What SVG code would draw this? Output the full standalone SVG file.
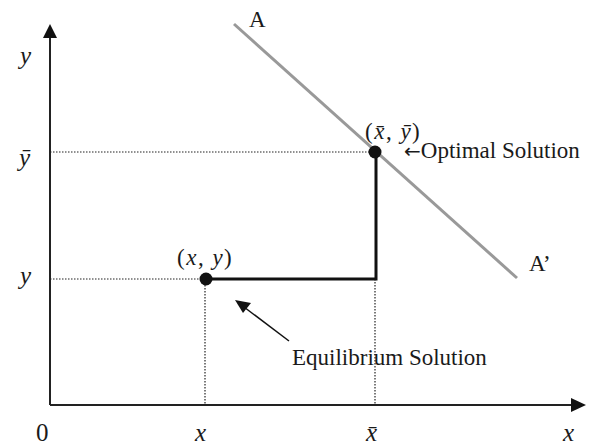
<svg xmlns="http://www.w3.org/2000/svg" width="601" height="445" viewBox="0 0 601 445">
<style>
text{font-family:"Liberation Serif","Times New Roman",serif;font-size:23px;fill:#1a1a1a}
.it{font-style:italic}
.ax{font-size:25px}
.arr{font-family:"DejaVu Sans",sans-serif;font-size:20px}
.dot{stroke:#222;stroke-width:1.2;stroke-dasharray:1.5 1.5;fill:none}
.axis{stroke:#222;stroke-width:2;fill:none}
</style>
<rect width="601" height="445" fill="#fff"/>
<g id="connectors">
<path class="dot" d="M50,152 H375"/>
<path class="dot" d="M50,279 H205"/>
<path class="dot" d="M205,279 V405"/>
<path class="dot" d="M375,279 V405"/>
<line x1="234" y1="24" x2="517" y2="278" stroke="#999" stroke-width="3"/>
<path d="M205,279 H376 V152" fill="none" stroke="#111" stroke-width="3"/>
<line x1="289" y1="341" x2="244" y2="307" stroke="#111" stroke-width="1.5"/>
<path d="M235,300 L251,303 L243,313 Z" fill="#111"/>
</g>
<g id="axes">
<path class="axis" d="M50,405 V36"/>
<path d="M50,24 L57,38 L43,38 Z" fill="#111"/>
<path class="axis" d="M50,405 H573"/>
<path d="M586,405 L571,398 L571,412 Z" fill="#111"/>
</g>
<g id="labels">
<text class="it ax" x="20" y="64">y</text>
<text class="it ax" x="19" y="166">y&#x0304;</text>
<text class="it ax" x="20" y="284">y</text>
<text class="ax" x="36" y="441">0</text>
<text class="it ax" x="195" y="441">x</text>
<text class="it ax" x="366" y="441">x&#x0304;</text>
<text class="it ax" x="563" y="441">x</text>
<text x="249" y="27">A</text>
<text x="529" y="271">A’</text>
</g>
<g id="equilibrium">
<circle cx="206" cy="279" r="6.5" fill="#111"/>
<text x="177" y="265" letter-spacing="1.5">(<tspan class="it">x</tspan>, <tspan class="it">y</tspan>)</text>
<text x="292" y="365">Equilibrium Solution</text>
</g>
<g id="optimal">
<circle cx="375" cy="152" r="6.5" fill="#111"/>
<text x="365" y="139" letter-spacing="1.5">(<tspan class="it">x&#x0304;</tspan>, <tspan class="it">y&#x0304;</tspan>)</text>
<text x="404" y="158"><tspan class="arr">←</tspan>Optimal Solution</text>
</g>
</svg>
